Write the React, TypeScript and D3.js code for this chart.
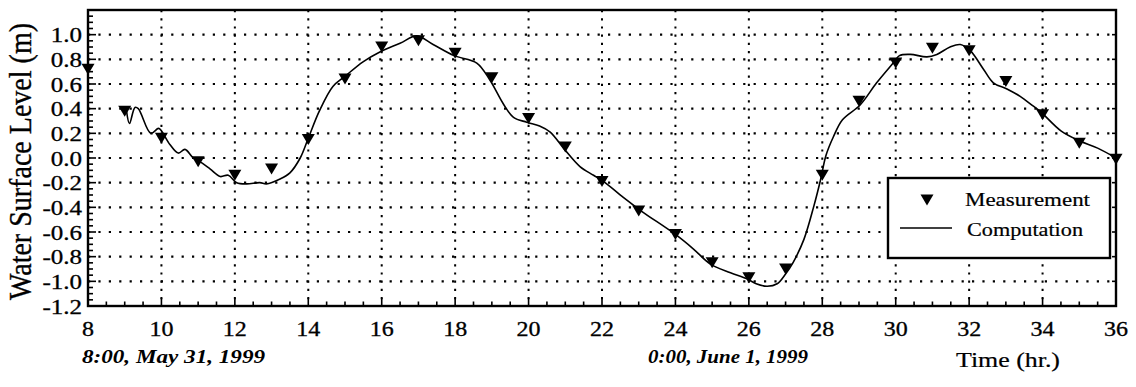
import React from "react";
import * as d3 from "d3";

const measHours = [8,9,10,11,12,13,14,15,16,17,18,19,20,21,22,23,24,25,26,27,28,29,30,31,32,33,34,35,36];
const measValues = [0.72,0.38,0.16,-0.03,-0.14,-0.09,0.15,0.64,0.90,0.95,0.85,0.65,0.32,0.09,-0.19,-0.43,-0.62,-0.85,-0.97,-0.90,-0.14,0.46,0.77,0.89,0.87,0.62,0.35,0.12,-0.01];

const compHours = [9.05,9.13,9.28,9.37,9.71,9.92,10.0,10.23,10.46,10.64,10.87,11.1,11.33,11.6,11.82,12.05,12.32,12.68,12.86,13.23,13.5,13.78,14.0,14.3,14.67,14.99,15.49,15.95,16.5,16.95,17.4,17.97,18.59,18.95,19.31,19.59,19.95,20.3,20.59,20.95,21.4,21.77,22.04,22.58,23.07,24.0,24.5,24.95,25.5,25.95,26.2,26.5,26.77,27.0,27.2,27.5,27.77,27.95,28.1,28.3,28.55,29.03,29.48,29.93,30.1,30.4,30.85,31.12,31.48,31.76,32.03,32.39,32.66,33.03,33.39,33.75,33.93,34.5,35.0,35.5,36.0];
const compValues = [0.38,0.28,0.41,0.40,0.20,0.24,0.22,0.11,0.04,0.07,0.0,-0.04,-0.09,-0.15,-0.14,-0.2,-0.21,-0.2,-0.21,-0.17,-0.12,0.0,0.16,0.38,0.58,0.66,0.78,0.86,0.93,0.99,0.92,0.83,0.77,0.63,0.44,0.33,0.29,0.26,0.21,0.08,-0.07,-0.14,-0.19,-0.32,-0.43,-0.62,-0.74,-0.86,-0.93,-0.98,-1.02,-1.04,-1.02,-0.94,-0.85,-0.66,-0.39,-0.18,0.02,0.17,0.31,0.43,0.61,0.77,0.83,0.84,0.82,0.84,0.90,0.92,0.87,0.72,0.61,0.56,0.50,0.42,0.38,0.22,0.14,0.08,0.0];

const xTickLabels = ["8","10","12","14","16","18","20","22","24","26","28","30","32","34","36"];
const yTickLabels = ["-1.2","-1.0","-0.8","-0.6","-0.4","-0.2","0.0","0.2","0.4","0.6","0.8","1.0"];

const yTitle = "Water Surface Level (m)";
const xTitle = "Time (hr.)";
const startLabel = "8:00, May 31, 1999";
const midLabel = "0:00, June 1, 1999";
const legendMeas = "Measurement";
const legendComp = "Computation";

const FONT = "'Times New Roman', 'Liberation Serif', Times, serif";
const ts: React.CSSProperties = { fontFamily: FONT };

export default function App() {
  const W = 1136, H = 387;
  const x = d3.scaleLinear().domain([8, 36]).range([88, 1116]);
  const y = d3.scaleLinear().domain([-1.2, 1.2]).range([306, 10]);
  const [x0, x1] = x.range();
  const [yb, yt] = y.range();

  const line = d3.line<number>()
    .x((_, i) => x(compHours[i]))
    .y((v) => y(v))
    .curve(d3.curveCatmullRom.alpha(0.5));

  const xMajor = xTickLabels.map(Number);
  const yMajor = yTickLabels.map(Number);
  const xMinor = d3.range(8, 36.001, 0.5);
  const yMinor = d3.range(-1.2, 1.2001, 0.05);

  const tri = "M-6.5,-5.5L6.5,-5.5L0,5.5Z";

  return (
    <svg width={W} height={H} style={{ position: "absolute", left: 0, top: 0, background: "#fff" }}>
      <rect x={0} y={0} width={W} height={H} fill="#fff" />
      {yMajor.filter(v => v > -1.15 && v < 1.15).map((v, i) => (
        <line key={"gy" + i} x1={x0} x2={x1} y1={y(v)} y2={y(v)} stroke="#000" strokeWidth={2.2} strokeDasharray="2.2 8.2" />
      ))}
      {xMajor.filter(v => v > 8 && v < 36).map((v, i) => (
        <line key={"gx" + i} x1={x(v)} x2={x(v)} y1={yt} y2={yb} stroke="#000" strokeWidth={2} strokeDasharray="2.2 6" />
      ))}
      {xMinor.map((v, i) => {
        const major = Math.abs((v - 8) % 2) < 1e-6;
        return <line key={"tx" + i} x1={x(v)} x2={x(v)} y1={yb} y2={yb - (major ? 8 : 4.5)} stroke="#000" strokeWidth={1.6} />;
      })}
      {yMinor.map((v, i) => {
        const major = Math.abs(Math.round(v / 0.2) * 0.2 - v) < 1e-6;
        return <line key={"ty" + i} x1={x0} x2={x0 + (major ? 8 : 5)} y1={y(v)} y2={y(v)} stroke="#000" strokeWidth={1.6} />;
      })}
      {yMajor.map((v, i) => (
        <line key={"tyr" + i} x1={x1} x2={x1 - 4} y1={y(v)} y2={y(v)} stroke="#000" strokeWidth={1.6} />
      ))}
      <rect x={x0} y={yt} width={x1 - x0} height={yb - yt} fill="none" stroke="#000" strokeWidth={2.4} />
      <path d={line(compValues) || ""} fill="none" stroke="#000" strokeWidth={1.6} />
      {measValues.map((v, i) => (
        <path key={"m" + i} d={tri} transform={`translate(${x(measHours[i])},${y(v)})`} fill="#000" />
      ))}
      {yMajor.map((v, i) => (
        <text key={"yl" + i} style={ts} transform={`translate(82,${y(v) + 7.5}) scale(1.25,1)`} textAnchor="end" fontSize={20} fill="#000" stroke="#000" strokeWidth={0.3}>{yTickLabels[i]}</text>
      ))}
      {xMajor.map((v, i) => (
        <text key={"xl" + i} style={ts} transform={`translate(${x(v)},335.5) scale(1.2,1)`} textAnchor="middle" fontSize={20} fill="#000" stroke="#000" strokeWidth={0.3}>{xTickLabels[i]}</text>
      ))}
      <text style={ts} transform="translate(31,161.5) rotate(-90) scale(1,1.25)" textAnchor="middle" fontSize={26} fill="#000" stroke="#000" strokeWidth={0.3} textLength={277} lengthAdjust="spacingAndGlyphs">{yTitle}</text>
      <text style={ts} x={956} y={366.5} fontSize={20} fill="#000" stroke="#000" strokeWidth={0.2} textLength={104} lengthAdjust="spacingAndGlyphs">{xTitle}</text>
      <text style={ts} x={82} y={363} fontSize={19} fontStyle="italic" fontWeight="bold" fill="#000" textLength={183} lengthAdjust="spacingAndGlyphs">{startLabel}</text>
      <text style={ts} x={648} y={363} fontSize={19} fontStyle="italic" fontWeight="bold" fill="#000" textLength={160} lengthAdjust="spacingAndGlyphs">{midLabel}</text>
      <rect x={888} y={178} width={222} height={80} fill="#fff" stroke="#000" strokeWidth={2.4} />
      <path d={tri} transform="translate(927,200)" fill="#000" />
      <text style={ts} x={965} y={206} fontSize={19} fill="#000" stroke="#000" strokeWidth={0.2} textLength={125} lengthAdjust="spacingAndGlyphs">{legendMeas}</text>
      <line x1={900} x2={952} y1={228} y2={228} stroke="#000" strokeWidth={1.6} />
      <text style={ts} x={967} y={236} fontSize={19} fill="#000" stroke="#000" strokeWidth={0.2} textLength={116} lengthAdjust="spacingAndGlyphs">{legendComp}</text>
    </svg>
  );
}
